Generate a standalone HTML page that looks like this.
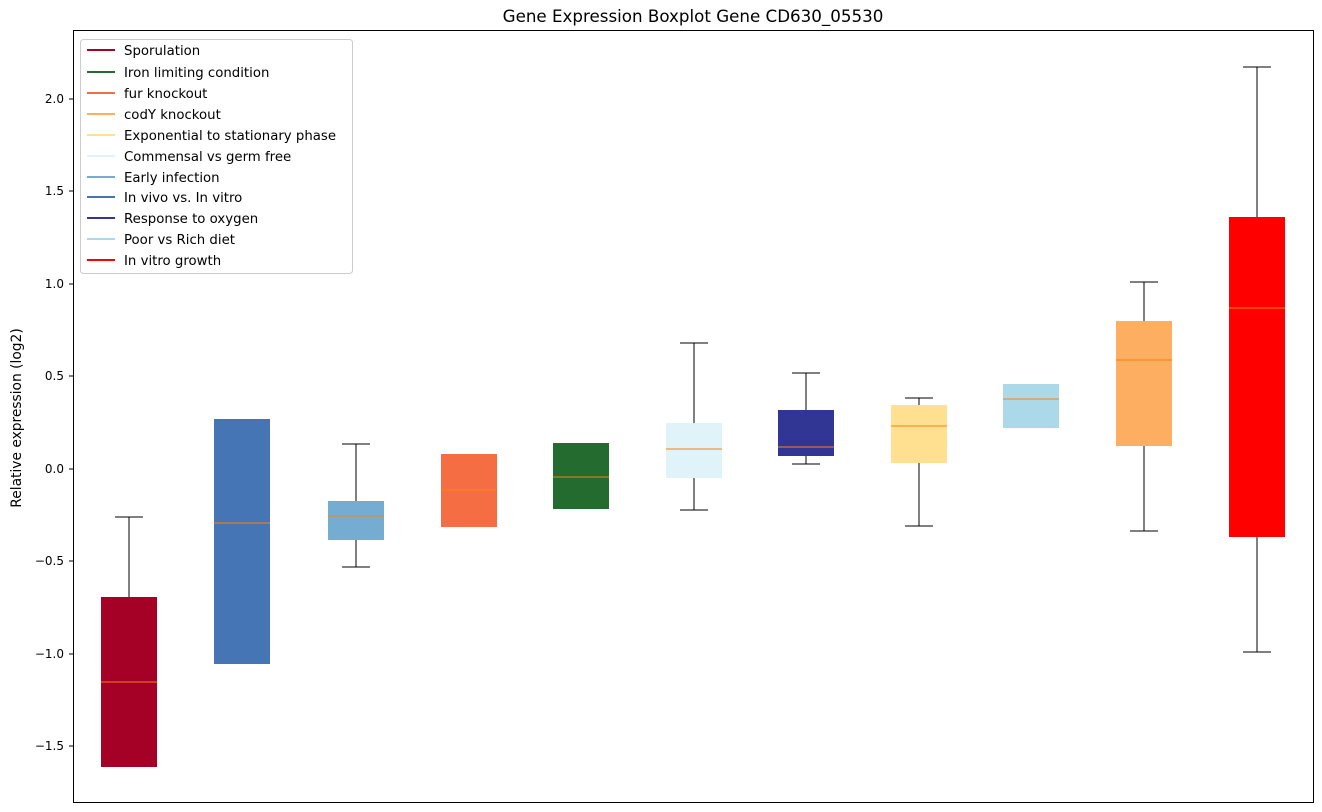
<!DOCTYPE html>
<html><head><meta charset="utf-8"><style>body{margin:0;background:#fff}svg{display:block;font-family:"DejaVu Sans","Liberation Sans",sans-serif}</style></head><body>
<svg width="1322" height="812" viewBox="0 0 1322 812" xmlns="http://www.w3.org/2000/svg">
<rect width="1322" height="812" fill="#fff"/>
<text x="693" y="22" font-size="16.7" text-anchor="middle">Gene Expression Boxplot Gene CD630_05530</text>
<text transform="translate(21,418) rotate(-90)" font-size="13.8" text-anchor="middle">Relative expression (log2)</text>
<g font-size="12" text-anchor="end">
<text x="64" y="103">2.0</text><text x="64" y="195">1.5</text><text x="64" y="288">1.0</text><text x="64" y="380">0.5</text><text x="64" y="473">0.0</text><text x="64" y="565">−0.5</text><text x="64" y="658">−1.0</text><text x="64" y="750">−1.5</text>
</g>
<g stroke="#000" stroke-width="1">
<line x1="69" y1="99" x2="73" y2="99"/><line x1="69" y1="191" x2="73" y2="191"/><line x1="69" y1="284" x2="73" y2="284"/><line x1="69" y1="376" x2="73" y2="376"/><line x1="69" y1="469" x2="73" y2="469"/><line x1="69" y1="561" x2="73" y2="561"/><line x1="69" y1="654" x2="73" y2="654"/><line x1="69" y1="746" x2="73" y2="746"/>
</g>
<g stroke="#000" stroke-width="1" fill="none">
<path d="M129 517V597M115 517H143"/>
<path d="M356 444V501M342 444H370M356 540V567M342 567H370"/>
<path d="M694 343V423M680 343H708M694 478V510M680 510H708"/>
<path d="M806 373V410M792 373H820M806 456V464M792 464H820"/>
<path d="M919 398V405M905 398H933M919 463V526M905 526H933"/>
<path d="M1144 282V321M1130 282H1158M1144 446V531M1130 531H1158"/>
<path d="M1257 67V217M1243 67H1271M1257 537V652M1243 652H1271"/>
</g>
<g>
<rect x="101" y="597" width="56" height="170" fill="#a50026"/>
<rect x="214" y="419" width="56" height="245" fill="#4575b4"/>
<rect x="328" y="501" width="56" height="39" fill="#74add1"/>
<rect x="441" y="454" width="56" height="73" fill="#f46d43"/>
<rect x="553" y="443" width="56" height="66" fill="#236b2e"/>
<rect x="666" y="423" width="56" height="55" fill="#e0f3f8"/>
<rect x="778" y="410" width="56" height="46" fill="#313695"/>
<rect x="891" y="405" width="56" height="58" fill="#fee090"/>
<rect x="1003" y="384" width="56" height="44" fill="#abd9e9"/>
<rect x="1116" y="321" width="56" height="125" fill="#fdae61"/>
<rect x="1229" y="217" width="56" height="320" fill="#ff0000"/>
</g>
<g stroke="#ff7f0e" stroke-width="1">
<line x1="101" y1="682" x2="157" y2="682"/><line x1="214" y1="523" x2="270" y2="523"/><line x1="328" y1="516" x2="384" y2="516"/><line x1="441" y1="490" x2="497" y2="490"/><line x1="553" y1="477" x2="609" y2="477"/><line x1="666" y1="449" x2="722" y2="449"/><line x1="778" y1="447" x2="834" y2="447"/><line x1="891" y1="426" x2="947" y2="426"/><line x1="1003" y1="399" x2="1059" y2="399"/><line x1="1116" y1="360" x2="1172" y2="360"/><line x1="1229" y1="308" x2="1285" y2="308"/>
</g>
<rect x="73.5" y="30.5" width="1240" height="772" fill="none" stroke="#000"/>
<rect x="80.5" y="39.5" width="272" height="234" rx="3" fill="#fff" fill-opacity="0.8" stroke="#ccc"/>
<g stroke-width="2">
<line x1="87" y1="50" x2="115" y2="50" stroke="#a50026"/>
<line x1="87" y1="72" x2="115" y2="72" stroke="#236b2e"/>
<line x1="87" y1="93" x2="115" y2="93" stroke="#f46d43"/>
<line x1="87" y1="114" x2="115" y2="114" stroke="#fdae61"/>
<line x1="87" y1="135" x2="115" y2="135" stroke="#fee090"/>
<line x1="87" y1="156" x2="115" y2="156" stroke="#e0f3f8"/>
<line x1="87" y1="177" x2="115" y2="177" stroke="#74add1"/>
<line x1="87" y1="197" x2="115" y2="197" stroke="#4575b4"/>
<line x1="87" y1="218" x2="115" y2="218" stroke="#313695"/>
<line x1="87" y1="239" x2="115" y2="239" stroke="#abd9e9"/>
<line x1="87" y1="260" x2="115" y2="260" stroke="#ff0000"/>
</g>
<g font-size="13.3">
<text x="124" y="55">Sporulation</text>
<text x="124" y="77">Iron limiting condition</text>
<text x="124" y="98">fur knockout</text>
<text x="124" y="119">codY knockout</text>
<text x="124" y="140">Exponential to stationary phase</text>
<text x="124" y="161">Commensal vs germ free</text>
<text x="124" y="182">Early infection</text>
<text x="124" y="202">In vivo vs. In vitro</text>
<text x="124" y="223">Response to oxygen</text>
<text x="124" y="244">Poor vs Rich diet</text>
<text x="124" y="265">In vitro growth</text>
</g>
</svg>
</body></html>
